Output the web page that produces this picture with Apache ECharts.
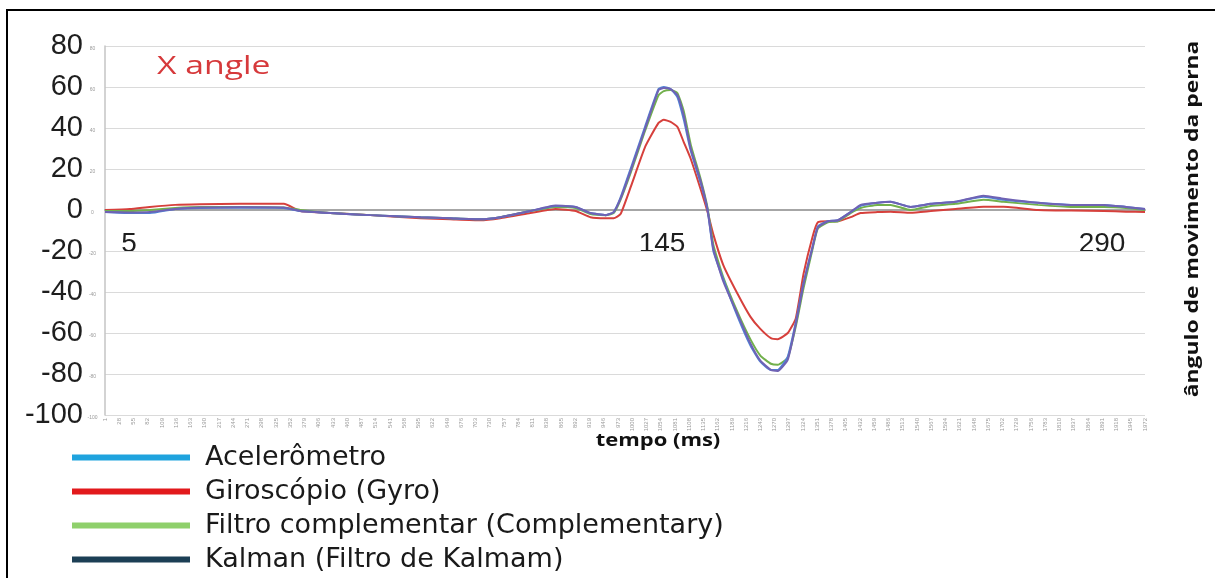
<!DOCTYPE html>
<html>
<head>
<meta charset="utf-8">
<script src="https://cdn.jsdelivr.net/npm/echarts@6/dist/echarts.min.js"></script>
<style>
  html, body { margin: 0; padding: 0; background: #fff; }
  #chart { width: 1215px; height: 578px; }
</style>
</head>
<body>
<div id="chart"></div>
<script>
// sample number (x) of each point
const sampleNo = [1, 48, 86, 134, 181, 257, 340, 371, 428, 504, 599, 655, 712, 750, 807, 855, 893, 921, 950, 965,
  978, 997, 1025, 1050, 1060, 1073, 1086, 1098, 1111, 1130, 1143, 1154, 1173, 1200, 1224, 1243, 1263, 1276, 1295, 1310,
  1325, 1342, 1352, 1371, 1390, 1414, 1433, 1465, 1490, 1528, 1566, 1613, 1666, 1704, 1769, 1832, 1894, 1936, 1972]

const accel = [-1, -1.5, -1.5, 0.5, 1, 1.2, 1, -0.5, -1.5, -2.5, -3.5, -4, -4.5, -3.5, -0.5, 2, 1.5, -1.5, -2.5, -1,
  6, 20, 41, 59, 60, 59, 55, 44, 29, 13, 0, -20, -34, -52, -66, -74, -78, -78, -71.5, -55,
  -35.5, -18, -8, -5.5, -5, -1, 2, 3.5, 4, 1.5, 3, 4, 6.5, 5, 3.5, 2.5, 2.5, 1.5, 0.5]

const gyro = [0, 0.5, 1.5, 2.5, 2.8, 3, 3, -0.5, -1.5, -2.5, -4, -4.5, -5, -4, -1.5, 0.5, -0.5, -3.5, -4, -4,
  -2, 11, 31, 42.5, 44, 43, 40.5, 33, 25, 10, -1, -12, -27, -41, -52, -58, -62.5, -63, -60, -53,
  -31, -13, -6, -5.5, -5.5, -3.5, -1.5, -1, -0.8, -1.3, -0.5, 0.5, 1.6, 1.6, 0, -0.3, -0.5, -0.8, -1]

const complementary = [-0.5, -0.5, 0, 1, 1.5, 1.5, 1.2, 0, -1.5, -2.5, -3.5, -4, -4.5, -3.5, -0.5, 1.5, 1, -2, -2.5, -1.5,
  5, 18, 39, 56, 58, 58.5, 57, 48, 32, 15, 1, -17, -33, -50, -63, -71, -75, -75.5, -72, -57,
  -38, -19, -9, -6, -5.5, -1.5, 1, 2.5, 2.5, 0, 2, 3, 5, 4, 2.5, 1.5, 1.5, 1, 0]

const kalman = [-1, -1.2, -1, 0.5, 1.2, 1.3, 1.2, -0.5, -1.5, -2.5, -3.5, -4, -4.5, -3.5, -0.5, 2.2, 1.5, -1.5, -2.5, -1,
  5.5, 19, 40, 58.5, 59.5, 59, 56, 46, 30, 14, 0, -19, -35, -51, -65, -73.5, -78, -78.5, -73, -56,
  -36, -18, -8.5, -5.5, -5, -1, 2.5, 3.5, 4, 1.5, 3, 4, 7, 5.5, 3.5, 2.5, 2.5, 1.5, 0.5]

// x categories: every sample 1..1972, a label each 27 samples
const samples = Array.from({ length: 1972 }, (_, i) => String(i + 1))

const names = ['Acelerômetro', 'Giroscópio (Gyro)', 'Filtro complementar (Complementary)', 'Kalman (Filtro de Kalmam)']
const lineColors = ['#4f82d4', '#d6403c', '#72b04c', '#6f62b4']
const legendColors = ['#1fa3de', '#e2191c', '#8fd06b', '#1c3f55']

const toPairs = (vals) => vals.map((v, i) => [sampleNo[i] - 1, v])

const chart = echarts.init(document.getElementById('chart'))

const seriesData = [accel, gyro, complementary, kalman]
// gyro drawn first so the others sit on top of it
const drawOrder = [1, 2, 0, 3]
const series = drawOrder.map((k) => ({
  name: names[k],
  type: 'line',
  data: toPairs(seriesData[k]),
  showSymbol: false,
  smooth: 0.15,
  lineStyle: { width: 2, color: lineColors[k] },
  itemStyle: { color: lineColors[k] }
}))

const option = {
  animation: false,
  grid: { left: 105, right: 70, top: 46, bottom: 163 },
  legend: {
    orient: 'vertical',
    left: 72,
    top: 441,
    padding: 0,
    icon: 'rect',
    itemWidth: 118,
    itemHeight: 6,
    itemGap: 1,
    data: names.map((n, i) => ({ name: n, itemStyle: { color: legendColors[i] } })),
    textStyle: {
      fontFamily: 'DejaVu Sans',
      fontSize: 27,
      color: '#1a1a1a',
      lineHeight: 27,
      padding: [0, 0, 6, 10]
    }
  },
  xAxis: {
    type: 'category',
    data: samples,
    boundaryGap: false,
    axisLine: { onZero: true, lineStyle: { color: '#a6a6a6', width: 2 } },
    axisTick: { show: false },
    axisLabel: {
      interval: 26,
      rotate: 90,
      fontSize: 6,
      color: '#9a9a9a',
      margin: 3
    },
    splitLine: { show: false }
  },
  yAxis: {
    type: 'value',
    min: -100,
    max: 80,
    interval: 20,
    axisLine: { show: true, onZero: false, lineStyle: { color: '#c4c4c4', width: 1.5 } },
    axisTick: { show: false },
    splitLine: { lineStyle: { color: '#dadada' } },
    axisLabel: {
      margin: 6,
      formatter: (v) => `{b|${v}}{s|${v}}`,
      rich: {
        b: { fontFamily: 'Liberation Sans', fontSize: 29, color: '#1e1e1e' },
        s: { fontSize: 5, color: '#9a9a9a', width: 13, align: 'left', padding: [6, 0, 0, 3], verticalAlign: 'middle' }
      }
    }
  },
  graphic: [
    { type: 'rect', shape: { x: 7, y: 10, width: 1400, height: 800 }, style: { fill: 'none', stroke: '#000', lineWidth: 2 } },
    {
      type: 'text', x: 157, y: 67, scaleX: 1.35,
      style: { text: 'X angle', fill: '#d6393b', font: '25px "Open Sans"', textVerticalAlign: 'middle' }
    },
    {
      type: 'text', x: 658, y: 441, scaleX: 1.22,
      style: { text: 'tempo (ms)', fill: '#111', font: 'bold 18px "Open Sans"', textAlign: 'center', textVerticalAlign: 'middle' }
    },
    {
      type: 'text', x: 1193, y: 219, rotation: Math.PI / 2, scaleX: 1.27,
      style: { text: 'ângulo de movimento da perna', fill: '#111', font: 'bold 18px "Open Sans"', textAlign: 'center', textVerticalAlign: 'middle' }
    },
    { type: 'text', x: 129, y: 244, style: { text: '5', fill: '#1e1e1e', font: '28px "Liberation Sans"', textAlign: 'center', textVerticalAlign: 'middle' } },
    { type: 'text', x: 662, y: 244, style: { text: '145', fill: '#1e1e1e', font: '28px "Liberation Sans"', textAlign: 'center', textVerticalAlign: 'middle' } },
    { type: 'text', x: 1102, y: 244, style: { text: '290', fill: '#1e1e1e', font: '28px "Liberation Sans"', textAlign: 'center', textVerticalAlign: 'middle' } }
  ],
  series
}

chart.setOption(option)
window.addEventListener('resize', () => chart.resize())
</script>
</body>
</html>
